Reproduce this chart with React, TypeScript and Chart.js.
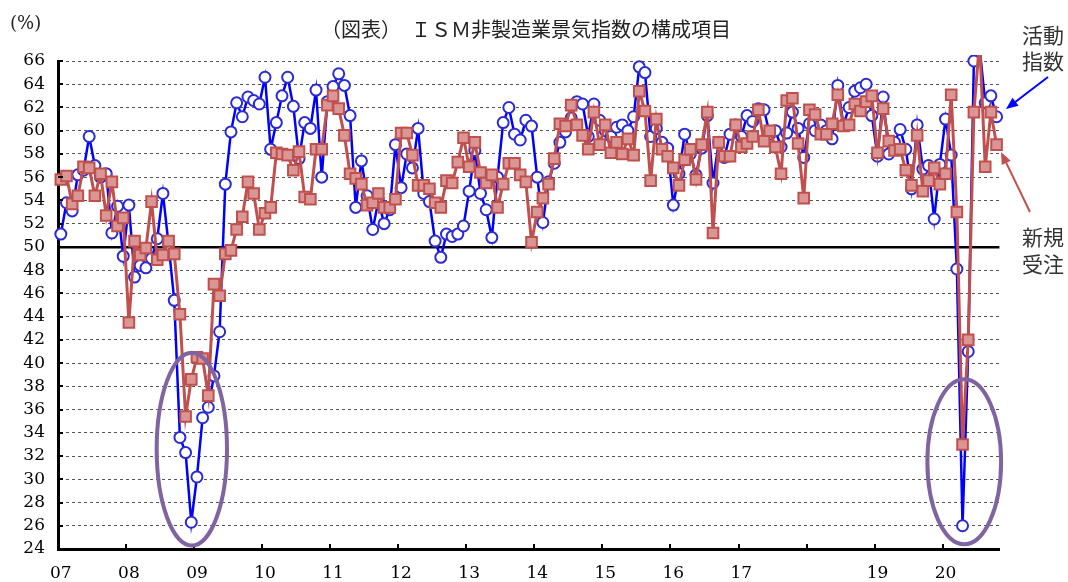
import React, { useEffect, useRef } from 'react';
import { Chart, registerables } from 'chart.js';

Chart.register(...registerables);

// ---- data -------------------------------------------------------------
const START_YEAR = 2007;
const YEAR_TICK_LABELS = ['07', '08', '09', '10', '11', '12', '13', '14', '15', '16', '17', '', '19', '20'];

// ISM non-manufacturing: business activity index (活動指数), monthly from Jan 2007
const ACTIVITY = [
  51.1, 53.8, 53.1, 56.2, 56.6, 59.5, 57.0, 56.0, 56.3, 51.2, 53.5, 49.2, // 2007
  53.6, 47.4, 48.4, 48.2, 49.0, 50.7, 54.6, 50.2, 45.4, 33.6, 32.3, 26.3, // 2008
  30.2, 35.3, 36.2, 38.9, 42.7, 55.4, 59.9, 62.4, 61.2, 62.9, 62.6, 62.3, // 2009
  64.6, 58.4, 60.7, 63.0, 64.6, 62.1, 57.6, 60.7, 60.2, 63.5, 56.0, 62.5, // 2010
  63.8, 64.9, 63.9, 61.3, 53.4, 57.4, 54.4, 51.5, 54.0, 52.0, 53.2, 58.8, // 2011
  55.1, 58.0, 56.8, 60.2, 54.6, 53.9, 50.5, 49.1, 51.1, 50.9, 51.1, 51.8, // 2012
  54.8, 58.3, 54.6, 53.2, 50.8, 56.0, 60.7, 62.0, 59.7, 59.2, 60.9, 60.4, // 2013
  56.0, 52.1, 55.6, 57.2, 59.0, 59.9, 61.1, 62.5, 62.3, 59.5, 62.3, 60.9, // 2014
  60.0, 59.5, 60.3, 60.5, 60.0, 61.2, 65.5, 65.0, 59.5, 60.2, 59.0, 58.5, // 2015
  53.6, 56.3, 59.7, 58.0, 56.2, 58.5, 61.3, 55.5, 59.0, 57.7, 59.7, 60.5, // 2016
  59.5, 61.3, 60.8, 61.9, 61.8, 59.7, 60.0, 58.6, 59.8, 61.6, 60.2, 57.7, // 2017
  60.6, 60.0, 60.5, 60.0, 59.3, 63.9, 60.5, 62.0, 63.4, 63.7, 64.0, 61.3, // 2018
  57.8, 62.9, 58.0, 59.0, 60.1, 58.4, 55.0, 60.5, 56.7, 57.0, 52.4, 57.1, // 2019
  61.0, 57.9, 48.1, 26.0, 41.0, 66.0, 67.2, 62.4, 63.0, 61.2,             // 2020
];

// ISM non-manufacturing: new orders index (新規受注)
const NEW_ORDERS = [
  55.8, 56.1, 53.7, 54.4, 56.9, 56.8, 54.4, 56.3, 52.7, 55.6, 51.8, 52.5, // 2007
  43.5, 50.5, 49.3, 49.9, 53.9, 48.9, 49.3, 50.5, 49.4, 44.2, 35.4, 38.6, // 2008
  40.5, 40.4, 37.2, 46.8, 45.8, 49.4, 49.7, 51.5, 52.6, 55.6, 54.6, 51.5, // 2009
  52.9, 53.4, 58.1, 58.0, 57.9, 56.6, 58.2, 54.3, 54.1, 58.4, 58.4, 62.2, // 2010
  63.0, 61.9, 59.6, 56.3, 55.9, 55.4, 53.6, 53.8, 54.6, 53.4, 53.4, 54.1, // 2011
  59.8, 59.8, 57.9, 55.3, 55.3, 55.0, 53.8, 53.4, 55.7, 55.5, 57.3, 59.4, // 2012
  56.9, 59.0, 56.4, 55.5, 56.2, 53.4, 55.4, 57.2, 57.2, 56.2, 55.6, 50.4, // 2013
  53.0, 54.2, 55.4, 57.6, 60.6, 60.4, 62.2, 60.5, 59.6, 58.4, 61.6, 58.8, // 2014
  60.5, 58.1, 59.0, 58.0, 59.3, 57.9, 63.4, 61.7, 55.7, 61.0, 58.4, 57.8, // 2015
  56.8, 55.3, 57.5, 58.4, 55.8, 58.8, 61.6, 51.2, 59.0, 57.8, 57.8, 60.5, // 2016
  58.6, 58.9, 59.5, 61.8, 59.1, 60.0, 58.6, 56.3, 62.6, 62.8, 58.9, 54.2, // 2017
  61.8, 61.4, 59.7, 59.7, 60.6, 63.1, 60.4, 60.5, 62.3, 61.7, 62.5, 63.0, // 2018
  58.1, 61.9, 59.1, 58.3, 58.4, 56.6, 55.3, 59.6, 54.8, 55.7, 56.8, 55.4, // 2019
  56.3, 63.1, 53.0, 33.0, 42.0, 61.6, 67.7, 56.9, 61.6, 58.8,             // 2020
];

const MONTHS = ACTIVITY.map(
  (_, i) => `${START_YEAR + Math.floor(i / 12)}-${String((i % 12) + 1).padStart(2, '0')}`
);

// highlighted troughs: [centre month index, centre value, half-width in months, half-height in points]
const HIGHLIGHTS = [
  [23.1, 32.6, 6.2, 8.3],
  [159.3, 31.5, 6.5, 7.1],
];

const SERIF = '"DejaVu Serif", "Liberation Serif", serif';
const JP = '"Noto Sans CJK JP", "Noto Sans", sans-serif';

function arrow(ctx: CanvasRenderingContext2D, x1: number, y1: number, x2: number, y2: number, color: string) {
  const ang = Math.atan2(y2 - y1, x2 - x1);
  const len = 12;
  const hw = 5;
  ctx.strokeStyle = color;
  ctx.fillStyle = color;
  ctx.lineWidth = 2;
  ctx.beginPath();
  ctx.moveTo(x1, y1);
  ctx.lineTo(x2 - Math.cos(ang) * len * 0.8, y2 - Math.sin(ang) * len * 0.8);
  ctx.stroke();
  ctx.beginPath();
  ctx.moveTo(x2, y2);
  ctx.lineTo(x2 - Math.cos(ang) * len - Math.sin(ang) * hw, y2 - Math.sin(ang) * len + Math.cos(ang) * hw);
  ctx.lineTo(x2 - Math.cos(ang) * len + Math.sin(ang) * hw, y2 - Math.sin(ang) * len - Math.cos(ang) * hw);
  ctx.closePath();
  ctx.fill();
}

const overlayPlugin = {
  id: 'overlay',
  afterDraw(chart: any) {
    const { ctx, chartArea } = chart;
    const x = chart.scales.x;
    const y = chart.scales.y;
    ctx.save();

    // inward tick marks on the y axis
    ctx.strokeStyle = '#000';
    ctx.lineWidth = 2;
    y.ticks.forEach((t: any) => {
      const py = Math.round(y.getPixelForValue(t.value));
      ctx.beginPath();
      ctx.moveTo(chartArea.left, py);
      ctx.lineTo(chartArea.left + 5, py);
      ctx.stroke();
    });
    // inward year tick marks on the x axis (at year boundaries)
    const w = x.getPixelForValue(1) - x.getPixelForValue(0);
    for (let i = 12; i < MONTHS.length; i += 12) {
      const px = Math.round(x.getPixelForValue(i) - w / 2);
      ctx.beginPath();
      ctx.moveTo(px, chartArea.bottom);
      ctx.lineTo(px, chartArea.bottom - 5);
      ctx.stroke();
    }

    // highlight ellipses
    ctx.strokeStyle = '#8064a2';
    ctx.lineWidth = 4;
    HIGHLIGHTS.forEach(([ci, cv, dx, dy]) => {
      const cx = x.getPixelForValue(ci);
      const cy = y.getPixelForValue(cv);
      const rx = Math.abs(x.getPixelForValue(ci + dx) - cx);
      const ry = Math.abs(y.getPixelForValue(cv + dy) - cy);
      ctx.beginPath();
      ctx.ellipse(cx, cy, rx, ry, 0, 0, Math.PI * 2);
      ctx.stroke();
    });

    // title and unit
    ctx.fillStyle = '#222';
    ctx.textBaseline = 'middle';
    ctx.textAlign = 'center';
    ctx.font = `20px ${JP}`;
    ctx.fillText('（図表）　ＩＳＭ非製造業景気指数の構成項目', 526, 29);
    ctx.textAlign = 'left';
    ctx.font = `18px ${SERIF}`;
    ctx.fillText('(%)', 10, 24);

    // series labels
    ctx.fillStyle = '#333';
    ctx.font = `21px ${JP}`;
    ctx.fillText('活動', 1022, 35);
    ctx.fillText('指数', 1022, 61);
    ctx.fillText('新規', 1022, 237);
    ctx.fillText('受注', 1022, 264);

    arrow(ctx, 1048, 77, 1006, 109, '#0000ff');
    arrow(ctx, 1030, 212, 1001, 152, '#c0504d');

    ctx.restore();
  },
};

export default function App() {
  const canvasRef = useRef<HTMLCanvasElement | null>(null);

  useEffect(() => {
    if (!canvasRef.current) return;
    const chart = new Chart(canvasRef.current, {
      type: 'line',
      data: {
        labels: MONTHS,
        datasets: [
          {
            label: '新規受注',
            data: NEW_ORDERS,
            borderColor: '#c0504d',
            borderWidth: 3,
            pointStyle: 'rect',
            pointRadius: 7.5,
            pointBackgroundColor: '#d99694',
            pointBorderColor: '#c0504d',
            pointBorderWidth: 2,
            order: 1,
            tension: 0,
            clip: { left: 10, right: 10, top: 6, bottom: 10 },
          },
          {
            label: '活動指数',
            data: ACTIVITY,
            borderColor: '#0000ff',
            borderWidth: 2.5,
            pointStyle: 'circle',
            pointRadius: 5.5,
            pointBackgroundColor: '#ffffff',
            pointBorderColor: '#2b2bd6',
            pointBorderWidth: 2,
            order: 2,
            tension: 0,
            clip: { left: 10, right: 10, top: 6, bottom: 10 },
          },
        ],
      },
      options: {
        responsive: true,
        maintainAspectRatio: false,
        animation: false,
        devicePixelRatio: 1,
        layout: { padding: { left: 0, top: 61, right: 68.6, bottom: 0 } },
        plugins: {
          legend: { display: false },
          tooltip: { enabled: false },
          title: { display: false },
        },
        events: [],
        scales: {
          x: {
            type: 'category',
            offset: true,
            grid: { display: false, drawTicks: false, offset: true },
            border: { display: true, color: '#000', width: 3 },
            ticks: {
              autoSkip: false,
              maxRotation: 0,
              minRotation: 0,
              padding: 14,
              color: '#000',
              font: { family: SERIF, size: 17 },
              callback: (_v: any, index: number) =>
                index % 12 === 0 ? YEAR_TICK_LABELS[index / 12] ?? '' : '',
            },
            afterFit: (s: any) => {
              s.height = 33;
            },
          },
          y: {
            min: 24,
            max: 66,
            ticks: {
              stepSize: 2,
              autoSkip: false,
              padding: 13,
              color: '#000',
              font: { family: SERIF, size: 17 },
            },
            grid: {
              drawTicks: false,
              color: (c: any) => (c.tick && c.tick.value === 50 ? '#000' : '#555'),
              lineWidth: (c: any) => (c.tick && c.tick.value === 50 ? 2.5 : 1),
            },
            border: {
              display: true,
              color: '#000',
              width: 3,
              dash: (c: any) => (c.type === 'tick' && c.tick && c.tick.value !== 50 ? [3, 3] : []),
            },
            afterFit: (s: any) => {
              s.width = 58;
            },
          },
        },
      },
      plugins: [overlayPlugin],
    } as any);
    return () => chart.destroy();
  }, []);

  return (
    <div style={{ position: 'fixed', left: 0, top: 0, width: 1068, height: 582, background: '#fff' }}>
      <canvas ref={canvasRef} />
    </div>
  );
}
